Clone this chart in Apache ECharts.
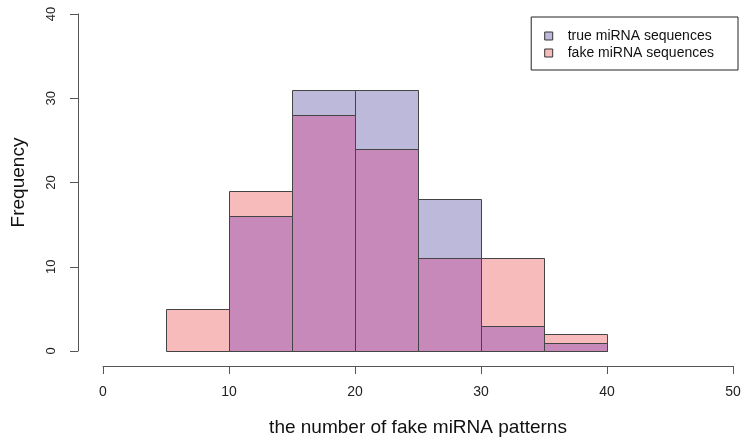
<!DOCTYPE html>
<html>
<head>
<meta charset="utf-8">
<script src="https://cdn.jsdelivr.net/npm/echarts@6/dist/echarts.min.js"></script>
<style>html,body{margin:0;padding:0;background:#fff}#c{width:743px;height:443px}</style>
</head>
<body>
<div id="c"></div>
<script>
const binStarts = [5, 10, 15, 20, 25, 30, 35];
const binWidth = 5;
const trueCounts = [0, 16, 31, 31, 18, 3, 1];
const fakeCounts = [5, 19, 28, 24, 11, 11, 2];
const xTicks = [0, 10, 20, 30, 40, 50];
const yTicks = [0, 10, 20, 30, 40];

const trueName = 'true miRNA sequences';
const fakeName = 'fake miRNA sequences';
const trueColor = '#BCB9DB';
const fakeColor = '#F7BBBC';
const overlapColor = '#C689B9';
const edge = '#444';

function toData(counts) {
  return binStarts.map((s, i) => [s, s + binWidth, counts[i]]);
}
const overlapCounts = trueCounts.map((t, i) => Math.min(t, fakeCounts[i]));

function makeRender(fill) {
  return function (params, api) {
    const v = api.value(2);
    if (!v) return null;
    const p0 = api.coord([api.value(0), v]);
    const p1 = api.coord([api.value(1), 0]);
    const x0 = Math.round(p0[0]) + 0.5, x1 = Math.round(p1[0]) + 0.5;
    const y0 = Math.round(p0[1]) + 0.5, y1 = Math.round(p1[1]) + 0.5;
    return {
      type: 'rect',
      shape: { x: x0, y: y0, width: x1 - x0, height: y1 - y0 },
      style: { fill: fill, stroke: edge, lineWidth: 1 }
    };
  };
}

const chart = echarts.init(document.getElementById('c'), null, { renderer: 'canvas' });
const font = 'Liberation Sans, Arial, sans-serif';
chart.setOption({
  animation: false,
  textStyle: { fontFamily: font },
  grid: { left: 103, right: 10, top: 14, bottom: 92, containLabel: false, outerBoundsMode: 'none' },
  legend: {
    top: 17, right: 5,
    orient: 'vertical',
    backgroundColor: '#fff',
    borderColor: '#222', borderWidth: 1, borderRadius: 0,
    padding: [12, 24, 10, 13],
    itemWidth: 8, itemHeight: 8, itemGap: 3,
    icon: 'rect',
    textStyle: { fontSize: 14, color: '#111', fontFamily: font, padding: [0, 0, 0, 10] },
    data: [
      { name: trueName, itemStyle: { color: trueColor, borderColor: '#333', borderWidth: 1 } },
      { name: fakeName, itemStyle: { color: fakeColor, borderColor: '#333', borderWidth: 1 } }
    ]
  },
  xAxis: {
    type: 'value', min: 0, max: 50, interval: 10,
    offset: 15,
    name: 'the number of fake miRNA patterns',
    nameLocation: 'middle', nameGap: 52,
    nameTextStyle: { fontSize: 19, color: '#111', fontFamily: font },
    axisLine: { show: true, onZero: false, lineStyle: { color: '#555', width: 1 } },
    axisTick: { show: true, inside: false, length: 8, lineStyle: { color: '#555' } },
    axisLabel: { fontSize: 14, color: '#222', margin: 19, formatter: v => xTicks.includes(v) ? String(v) : '' },
    splitLine: { show: false }
  },
  yAxis: {
    type: 'value', min: 0, max: 40, interval: 10,
    offset: 25,
    name: 'Frequency',
    nameLocation: 'middle', nameGap: 50,
    nameTextStyle: { fontSize: 19, color: '#111', fontFamily: font },
    axisLine: { show: true, onZero: false, lineStyle: { color: '#555', width: 1 } },
    axisTick: { show: true, inside: false, length: 8, lineStyle: { color: '#555' } },
    axisLabel: { fontSize: 13, color: '#222', rotate: 90, margin: 20, verticalAlign: 'bottom', align: 'center', formatter: v => yTicks.includes(v) ? String(v) : '' },
    splitLine: { show: false }
  },
  series: [
    { type: 'custom', name: trueName, renderItem: makeRender(trueColor), data: toData(trueCounts), encode: { x: [0, 1], y: 2 }, itemStyle: { color: trueColor } },
    { type: 'custom', name: fakeName, renderItem: makeRender(fakeColor), data: toData(fakeCounts), encode: { x: [0, 1], y: 2 }, itemStyle: { color: fakeColor } },
    { type: 'custom', name: 'overlap', renderItem: makeRender(overlapColor), data: toData(overlapCounts), encode: { x: [0, 1], y: 2 }, itemStyle: { color: overlapColor } }
  ]
});
</script>
</body>
</html>
